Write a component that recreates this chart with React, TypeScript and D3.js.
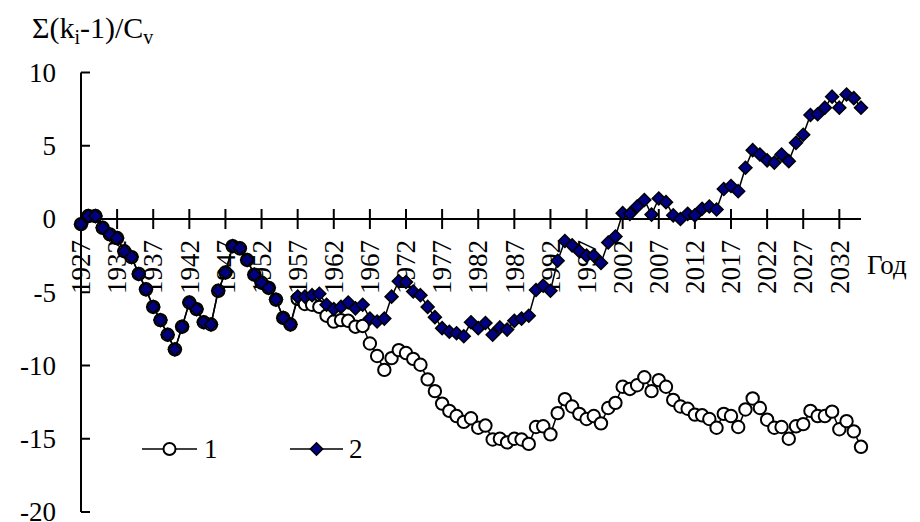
import React from "react";
import * as d3 from "d3";

const years: number[] = d3.range(1927, 2036);

const series1: number[] = [
  -0.35, 0.2, 0.2, -0.6, -1.05, -1.3, -2.2, -2.6, -3.75, -4.8,
  -6.0, -6.9, -7.9, -8.9, -7.35, -5.7, -6.15, -7.05, -7.2, -4.9,
  -3.65, -1.85, -2.0, -2.8, -3.8, -4.35, -4.7, -5.5, -6.75, -7.2,
  -5.45, -5.8, -5.85, -6.0, -6.6, -7.0, -6.9, -6.95, -7.35, -7.3,
  -8.5, -9.35, -10.3, -9.5, -8.95, -9.15, -9.55, -9.95, -10.95, -11.75,
  -12.6, -13.1, -13.45, -13.85, -13.6, -14.25, -14.1, -15.05, -15.0, -15.25,
  -15.0, -15.05, -15.35, -14.2, -14.15, -14.7, -13.25, -12.3, -12.8, -13.3,
  -13.65, -13.45, -13.95, -12.9, -12.55, -11.45, -11.6, -11.35, -10.8, -11.75,
  -11.0, -11.45, -12.35, -12.8, -12.95, -13.35, -13.4, -13.65, -14.25, -13.3,
  -13.45, -14.2, -13.0, -12.25, -12.9, -13.7, -14.25, -14.2, -15.0, -14.15,
  -14.0, -13.1, -13.45, -13.45, -13.15, -14.35, -13.8, -14.5, -15.55,
];

const series2: number[] = [
  -0.35, 0.2, 0.2, -0.6, -1.05, -1.3, -2.2, -2.6, -3.75, -4.8,
  -6.0, -6.9, -7.9, -8.9, -7.35, -5.7, -6.15, -7.05, -7.2, -4.9,
  -3.65, -1.85, -2.0, -2.8, -3.8, -4.35, -4.7, -5.5, -6.75, -7.2,
  -5.3, -5.3, -5.2, -5.1, -5.85, -6.15, -6.0, -5.7, -6.1, -5.85,
  -6.8, -7.0, -6.8, -5.3, -4.25, -4.3, -4.95, -5.2, -6.0, -6.7,
  -7.45, -7.7, -7.8, -8.0, -7.05, -7.45, -7.1, -7.9, -7.4, -7.55,
  -6.95, -6.8, -6.6, -4.85, -4.55, -4.9, -2.85, -1.5, -1.8, -2.2,
  -2.5, -2.5, -3.0, -1.6, -1.2, 0.4, 0.35, 0.85, 1.3, 0.3,
  1.4, 1.15, 0.25, 0.0, 0.35, 0.25, 0.7, 0.85, 0.65, 2.05,
  2.25, 1.9, 3.5, 4.7, 4.4, 4.0, 3.85, 4.4, 3.95, 5.2,
  5.75, 7.1, 7.15, 7.6, 8.35, 7.6, 8.5, 8.25, 7.6,
];

const tickYears: number[] = [
  1927, 1932, 1937, 1942, 1947, 1952, 1957, 1962, 1967, 1972, 1977, 1982,
  1987, 1992, 1997, 2002, 2007, 2012, 2017, 2022, 2027, 2032,
];

const yTicks: number[] = [10, 5, 0, -5, -10, -15, -20];

const seriesNames: string[] = ["1", "2"];

const FONT = "'Liberation Serif', 'Times New Roman', Times, serif";

function diamond(cx: number, cy: number, r: number): string {
  return `M${cx},${cy - r}L${cx + r},${cy}L${cx},${cy + r}L${cx - r},${cy}Z`;
}

export default function App() {
  const W = 920;
  const H = 522;
  const x = d3.scalePoint<number>().domain(years).range([81, 861]);
  const y = d3.scaleLinear().domain([-20, 10]).range([512, 72.5]);
  const y0 = y(0);

  const line = d3
    .line<number>()
    .x((_, i) => x(years[i]) as number)
    .y((d) => y(d));

  return (
    <svg
      width={W}
      height={H}
      viewBox={`0 0 ${W} ${H}`}
      style={{ position: "absolute", left: 0, top: 0, background: "#fff", fontFamily: FONT }}
    >
      <rect x={0} y={0} width={W} height={H} fill="#fff" />

      {/* y axis */}
      <line x1={81} x2={81} y1={y(10)} y2={y(-20)} stroke="#000" strokeWidth={2} />
      {yTicks.map((t) => (
        <g key={t}>
          <line x1={81} x2={90} y1={y(t)} y2={y(t)} stroke="#000" strokeWidth={2} />
          <text x={56} y={y(t)} dy="0.35em" textAnchor="end" fontSize={27}>
            {t}
          </text>
        </g>
      ))}

      {/* x axis */}
      <line x1={81} x2={861} y1={y0} y2={y0} stroke="#000" strokeWidth={2} />
      {tickYears.map((t) => {
        const tx = x(t) as number;
        return (
          <g key={t}>
            <line x1={tx} x2={tx} y1={y0 - 10} y2={y0 + 10} stroke="#000" strokeWidth={2} />
            <text
              transform={`translate(${tx},${y0 + 21}) rotate(-90)`}
              dy="0.34em"
              textAnchor="end"
              fontSize={27}
            >
              {t}
            </text>
          </g>
        );
      })}
      <text x={867} y={y0 + 55} fontSize={27}>
        Год
      </text>

      {/* y title */}
      <text x={32} y={38} fontSize={30}>
        Σ(k
        <tspan fontSize={20} dy={6}>
          i
        </tspan>
        <tspan dy={-6}>-1)/C</tspan>
        <tspan fontSize={20} dy={6}>
          v
        </tspan>
      </text>

      {/* series 1 */}
      <path d={line(series1) || ""} fill="none" stroke="#000" strokeWidth={1.5} />
      {series1.map((v, i) => (
        <circle
          key={`c${i}`}
          cx={x(years[i]) as number}
          cy={y(v)}
          r={6.2}
          fill="#fff"
          stroke="#000"
          strokeWidth={2}
        />
      ))}

      {/* series 2 */}
      <path d={line(series2) || ""} fill="none" stroke="#000" strokeWidth={1.5} />
      {series2.map((v, i) => (
        <path
          key={`d${i}`}
          d={diamond(x(years[i]) as number, y(v), 6.5)}
          fill="#000080"
          stroke="#000"
          strokeWidth={1.5}
        />
      ))}

      {/* legend */}
      <g>
        <line x1={142} x2={197} y1={449} y2={449} stroke="#000" strokeWidth={1.5} />
        <circle cx={169.5} cy={449} r={6} fill="#fff" stroke="#000" strokeWidth={2} />
        <text x={204} y={449} dy="0.35em" fontSize={27}>
          {seriesNames[0]}
        </text>
        <line x1={290} x2={343} y1={449} y2={449} stroke="#000" strokeWidth={1.5} />
        <path d={diamond(316.5, 449, 6.2)} fill="#000080" stroke="#000" strokeWidth={1.5} />
        <text x={349} y={449} dy="0.35em" fontSize={27}>
          {seriesNames[1]}
        </text>
      </g>
    </svg>
  );
}
